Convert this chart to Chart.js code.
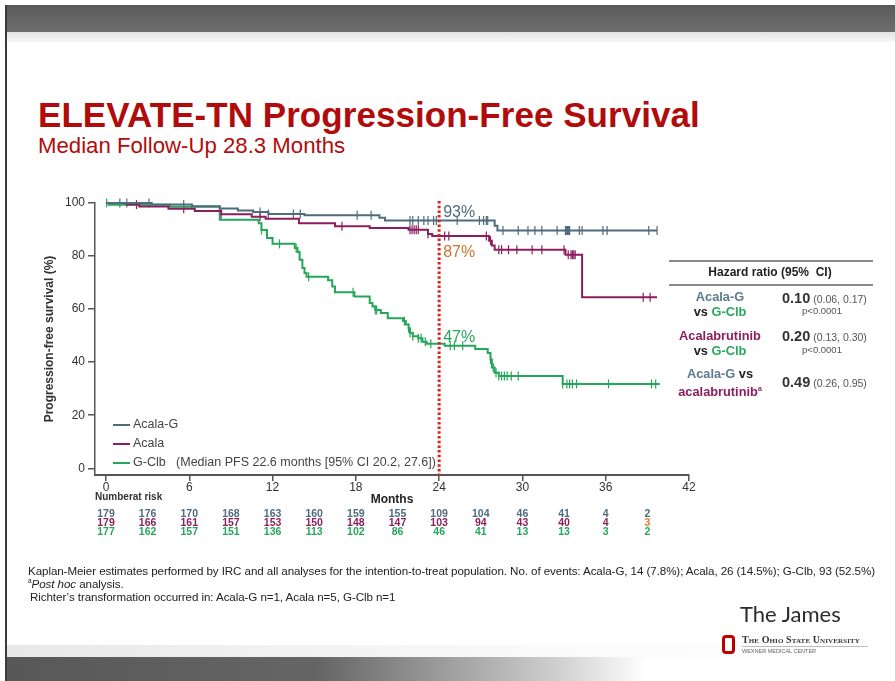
<!DOCTYPE html>
<html>
<head>
<meta charset="utf-8">
<script src="https://cdn.jsdelivr.net/npm/chart.js@4.4.0/dist/chart.umd.min.js"></script>
<style>
  body { margin: 0; background: #fff; }
  #slide { position: relative; width: 895px; height: 681px; overflow: hidden; background: #fff;
           font-family: 'Liberation Sans', Arial, sans-serif; }
  #chart { position: absolute; left: 0; top: 0; }
  .abs { position: absolute; white-space: nowrap; }
  .topbar { left: 7px; top: 5px; width: 888px; height: 27px; background: linear-gradient(#5a5a5a, #6f6f6f); }
  .topband { left: 7px; top: 32px; width: 888px; height: 10px; background: linear-gradient(#e4e4e4, #f7f7f7); }
  .leftline { left: 5px; top: 5px; width: 2px; height: 676px; background: #3a3a3a; }
  .botband { left: 7px; top: 645px; width: 888px; height: 12px; background: linear-gradient(to right, #e8e8e8, #fafafa 60%, #fff); }
  .botbar { left: 7px; top: 657px; width: 888px; height: 24px; background: linear-gradient(to right, #585858 0%, #656565 35%, #cfcfcf 62%, #fff 72%); }
  .title { left: 38px; top: 95px; font-size: 35px; font-weight: bold; color: #b10c0c; letter-spacing: 0.05px; }
  .subtitle { left: 38px; top: 133px; font-size: 22.2px; color: #b10c0c; }
  .leg { font-size: 12.5px; color: #444; }
  .legline { position: absolute; width: 17px; height: 2px; }
  .hr-line { left: 669px; width: 204px; height: 2px; background: #8a8a8a; }
  .hr-cell { text-align: center; font-weight: bold; font-size: 12.8px; line-height: 15px; }
  .foot { left: 28px; font-size: 11.6px; color: #222; letter-spacing: -0.08px; }
</style>
</head>
<body>
<div id="slide">
  <div class="abs leftline"></div>
  <div class="abs topbar"></div>
  <div class="abs topband"></div>
  <div class="abs botband"></div>
  <div class="abs botbar"></div>

  <div class="abs title">ELEVATE-TN Progression-Free Survival</div>
  <div class="abs subtitle">Median Follow-Up 28.3 Months</div>

  <canvas id="chart" width="895" height="681"></canvas>

  <!-- legend -->
  <div class="legline" style="left:113px;top:424px;background:#4f6b7d"></div>
  <div class="abs leg" style="left:133px;top:417px">Acala-G</div>
  <div class="legline" style="left:113px;top:443px;background:#8b1f5e"></div>
  <div class="abs leg" style="left:133px;top:436px">Acala</div>
  <div class="legline" style="left:113px;top:462px;background:#26a65b"></div>
  <div class="abs leg" style="left:133px;top:455px">G-Clb &nbsp; (Median PFS 22.6 months [95% CI 20.2, 27.6])</div>

  <!-- hazard ratio table -->
  <div class="abs hr-line" style="top:260px"></div>
  <div class="abs hr-line" style="top:284px"></div>
  <div class="abs" style="left:682px;top:265px;width:176px;text-align:center;font-weight:bold;font-size:12px;color:#222">Hazard ratio (95%&nbsp; CI)</div>

  <div class="abs hr-cell" style="left:670px;top:289px;width:100px"><span style="color:#5a7b8e">Acala-G</span><br><span style="color:#222">vs</span> <span style="color:#2aa65e">G-Clb</span></div>
  <div class="abs" style="left:782px;top:290px;font-size:10.5px;color:#555"><b style="font-size:14.5px;color:#333">0.10</b> (0.06, 0.17)</div>
  <div class="abs" style="left:800px;top:305px;width:44px;text-align:center;font-size:9.5px;color:#555">p&lt;0.0001</div>

  <div class="abs hr-cell" style="left:670px;top:328px;width:100px"><span style="color:#8b1f5e">Acalabrutinib</span><br><span style="color:#222">vs</span> <span style="color:#2aa65e">G-Clb</span></div>
  <div class="abs" style="left:782px;top:328px;font-size:10.5px;color:#555"><b style="font-size:14.5px;color:#333">0.20</b> (0.13, 0.30)</div>
  <div class="abs" style="left:800px;top:344px;width:44px;text-align:center;font-size:9.5px;color:#555">p&lt;0.0001</div>

  <div class="abs hr-cell" style="left:670px;top:366px;width:100px"><span style="color:#5a7b8e">Acala-G</span> <span style="color:#222">vs</span><br><span style="color:#8b1f5e">acalabrutinib<sup style="font-size:7px">a</sup></span></div>
  <div class="abs" style="left:782px;top:374px;font-size:10.5px;color:#555"><b style="font-size:14.5px;color:#333">0.49</b> (0.26, 0.95)</div>

  <!-- footnotes -->
  <div class="abs foot" style="top:564px">Kaplan-Meier estimates performed by IRC and all analyses for the intention-to-treat population. No. of events: Acala-G, 14 (7.8%); Acala, 26 (14.5%); G-Clb, 93 (52.5%)</div>
  <div class="abs foot" style="top:577px"><sup style="font-size:6.5px">a</sup><i>Post hoc</i> analysis.</div>
  <div class="abs foot" style="top:590px;left:30px">Richter’s transformation occurred in: Acala-G n=1, Acala n=5, G-Clb n=1</div>

  <!-- branding -->
  <div class="abs" style="left:740px;top:600px;font-family:Lato,'Open Sans',sans-serif;font-size:22px;color:#2b2b2b">The James</div>
  <div class="abs" style="left:722px;top:635px;width:7px;height:13px;border:3px solid #bb0000;border-radius:4px"></div>
  <div class="abs" style="left:742px;top:634px;font-family:'Liberation Serif',serif;font-weight:bold;font-variant:small-caps;font-size:10px;color:#333;letter-spacing:0.1px">The Ohio State University</div>
  <div class="abs" style="left:742px;top:646px;width:126px;height:1px;background:#bbb"></div>
  <div class="abs" style="left:742px;top:648px;font-size:5.5px;color:#666">WEXNER MEDICAL CENTER</div>
</div>

<script>
// Kaplan-Meier step data (month at which the curve steps, survival % after the step)
const acalaGMonths = [0, 3.3, 6.2, 8.2, 9.5, 10.6, 11.7, 14.3, 19.7, 20.1, 28.0, 28.2, 39.7];
const acalaGSurv   = [100, 99.4, 98.8, 97.9, 97.2, 96.6, 95.9, 95.4, 94.4, 93.4, 91.4, 89.6, 89.6];
const acalaGCensor = [1.0, 1.5, 3.1, 5.6, 11.1, 11.7, 13.5, 14.0, 18.1, 19.1, 21.9, 22.1, 22.5, 22.9, 23.2, 23.6, 23.8,
                      25.3, 26.9, 27.2, 27.4, 27.5, 28.6, 29.7, 30.4, 30.9, 31.4, 32.5, 33.1, 33.15, 33.2, 33.25, 33.3,
                      33.35, 33.4, 34.1, 34.3, 35.8, 36.1, 39.1, 39.7];

const acalaMonths = [0, 1.5, 2.4, 4.5, 6.4, 8.3, 10.5, 11.5, 13.9, 16.5, 19.0, 21.8, 23.2, 23.5, 27.6, 27.8, 28.0, 33.1, 34.3, 39.7];
const acalaSurv   = [100, 99.4, 98.7, 97.8, 97.0, 95.8, 94.8, 94.1, 92.4, 91.2, 90.6, 89.9, 88.3, 87.6, 85.8, 84.0, 82.4, 80.5, 64.5, 64.5];
const acalaCensor = [2.2, 5.6, 8.3, 11.1, 17.0, 21.9, 22.05, 22.2, 22.35, 22.5, 23.2, 24.4, 24.7, 27.4, 27.7, 28.3, 28.5,
                     29.0, 29.6, 30.7, 31.4, 33.0, 33.3, 33.5, 33.6, 33.7, 33.8, 38.7, 39.2];

const gclbMonths = [0, 0.2, 4.6, 8.2, 11.0, 11.2, 11.6, 12.0, 13.6, 13.8, 13.95, 14.15, 14.3, 14.45, 16.0, 16.3, 16.5, 17.9,
                    19.0, 19.2, 19.4, 19.8, 20.3, 21.4, 21.6, 21.8, 21.9, 22.1, 22.5, 22.8, 23.1, 24.4, 26.6, 27.5, 27.7,
                    27.8, 28.0, 28.3, 32.9, 39.9];
const gclbSurv   = [100, 99.3, 98.6, 93.7, 92.4, 89.8, 86.8, 84.6, 83.0, 81.5, 78.6, 75.5, 73.6, 72.2, 70.9, 68.5, 66.4, 64.8,
                    62.3, 61.0, 59.7, 58.5, 56.6, 55.5, 54.2, 52.8, 51.0, 49.8, 49.0, 47.7, 46.9, 46.2, 45.0, 43.5, 41.0,
                    38.0, 36.0, 34.8, 31.8, 31.8];
const gclbCensor = [0.05, 11.2, 12.5, 13.7, 14.6, 17.8, 19.4, 19.5, 21.5, 21.8, 21.9, 22.1, 22.5, 22.7, 23.0, 23.4, 24.8,
                    25.1, 25.7, 27.7, 27.9, 28.1, 28.3, 28.5, 28.7, 28.9, 29.2, 29.7, 32.9, 33.2, 33.4, 33.6, 33.9, 36.2,
                    39.3, 39.6];

// axes
const monthTicks = [0, 6, 12, 18, 24, 30, 36, 42];
const survTicks = [0, 20, 40, 60, 80, 100];

// landmark at 24 months
const landmarkMonth = 24;
const landmarkLabels = ['93%', '87%', '47%'];
const landmarkValues = [93, 87, 47];

// number at risk
const riskMonths = [0, 3, 6, 9, 12, 15, 18, 21, 24, 27, 30, 33, 36, 39];
const riskAcalaG = [179, 176, 170, 168, 163, 160, 159, 155, 109, 104, 46, 41, 4, 2];
const riskAcala  = [179, 166, 161, 157, 153, 150, 148, 147, 103, 94, 43, 40, 4, 3];
const riskGClb   = [177, 162, 157, 151, 136, 113, 102, 86, 46, 41, 13, 13, 3, 2];

const colAcalaG = '#4f6b7d';
const colAcala = '#8b1f5e';
const colGClb = '#26a65b';

const font = "'Liberation Sans', Arial, sans-serif";

function stepPoints(months, surv) {
  return months.map((m, i) => ({ x: m, y: surv[i] }));
}

function survAt(months, surv, t) {
  let v = surv[0];
  for (let i = 0; i < months.length; i++) {
    if (months[i] <= t) v = surv[i];
  }
  return v;
}

function censorPoints(censor, months, surv) {
  return censor.map(t => ({ x: t, y: survAt(months, surv, t) }));
}

function curve(label, months, surv, color) {
  return {
    label: label,
    data: stepPoints(months, surv),
    showLine: true,
    stepped: true,
    borderColor: color,
    borderWidth: 2,
    pointRadius: 0,
    clip: false
  };
}

function censors(censor, months, surv, color) {
  return {
    data: censorPoints(censor, months, surv),
    showLine: false,
    pointStyle: 'line',
    rotation: 90,
    pointRadius: 4.5,
    borderColor: color,
    borderWidth: 1.2,
    clip: false
  };
}

const overlay = {
  id: 'overlay',
  afterDatasetsDraw(chart) {
    const c = chart.ctx;
    const x = chart.scales.x;
    const y = chart.scales.y;

    // dotted 24 month line
    const lx = x.getPixelForValue(landmarkMonth);
    c.save();
    c.strokeStyle = '#e0201c';
    c.lineWidth = 3;
    c.setLineDash([2.5, 2.2]);
    c.beginPath();
    c.moveTo(lx, chart.chartArea.top - 2);
    c.lineTo(lx, chart.chartArea.bottom);
    c.stroke();
    c.restore();

    // landmark labels
    const pctColors = [colAcalaG, '#c7762e', colGClb];
    const pctOffset = [-9, 15, -6];
    c.save();
    c.font = '16px ' + font;
    c.textBaseline = 'middle';
    landmarkLabels.forEach((t, i) => {
      c.fillStyle = pctColors[i];
      c.fillText(t, lx + 4, y.getPixelForValue(landmarkValues[i]) + pctOffset[i]);
    });
    c.restore();

    // number at risk
    c.save();
    c.textBaseline = 'middle';
    c.font = 'bold 10px ' + font;
    c.fillStyle = '#333';
    c.textAlign = 'left';
    c.fillText('Numberat risk', 95, 497);
    c.font = 'bold 10.5px ' + font;
    c.textAlign = 'center';
    const rows = [riskAcalaG, riskAcala, riskGClb];
    const rowCols = [colAcalaG, colAcala, colGClb];
    rows.forEach((row, r) => {
      row.forEach((n, i) => {
        c.fillStyle = rowCols[r];
        if (i === row.length - 1 && r === 1) c.fillStyle = '#d3812f';
        c.fillText(String(n), x.getPixelForValue(riskMonths[i]), 514 + r * 9.3);
      });
    });
    c.restore();
  }
};

new Chart(document.getElementById('chart'), {
  type: 'scatter',
  data: {
    datasets: [
      curve('Acala-G', acalaGMonths, acalaGSurv, colAcalaG),
      curve('Acala', acalaMonths, acalaSurv, colAcala),
      curve('G-Clb', gclbMonths, gclbSurv, colGClb),
      censors(acalaGCensor, acalaGMonths, acalaGSurv, colAcalaG),
      censors(acalaCensor, acalaMonths, acalaSurv, colAcala),
      censors(gclbCensor, gclbMonths, gclbSurv, colGClb)
    ]
  },
  options: {
    responsive: false,
    animation: false,
    layout: { padding: { left: 0, top: 203, right: 206, bottom: 174 } },
    plugins: { legend: { display: false }, tooltip: { enabled: false } },
    scales: {
      x: {
        type: 'linear',
        min: -0.79,
        max: 42,
        afterBuildTicks: s => { s.ticks = monthTicks.map(v => ({ value: v })); },
        afterFit: s => { s.height = 32; },
        grid: { drawOnChartArea: false, tickLength: 6, color: '#555', lineWidth: 1.5 },
        border: { color: '#555', width: 2 },
        ticks: { font: { size: 12, family: font }, color: '#333', padding: -1, maxRotation: 0 },
        title: { display: true, text: 'Months', font: { size: 12, weight: 'bold', family: font }, color: '#222', padding: 0 }
      },
      y: {
        min: -2.53,
        max: 100,
        afterBuildTicks: s => { s.ticks = survTicks.map(v => ({ value: v })); },
        afterFit: s => { s.width = 95; },
        grid: { drawOnChartArea: false, tickLength: 7, color: '#555', lineWidth: 1.5 },
        border: { color: '#555', width: 1.5 },
        ticks: { font: { size: 12, family: font }, color: '#333', padding: 3 },
        title: { display: true, text: 'Progression-free survival (%)', font: { size: 12, weight: 'bold', family: font },
                 color: '#333', padding: { top: 42, bottom: 0 } }
      }
    }
  },
  plugins: [overlay]
});
</script>
</body>
</html>
